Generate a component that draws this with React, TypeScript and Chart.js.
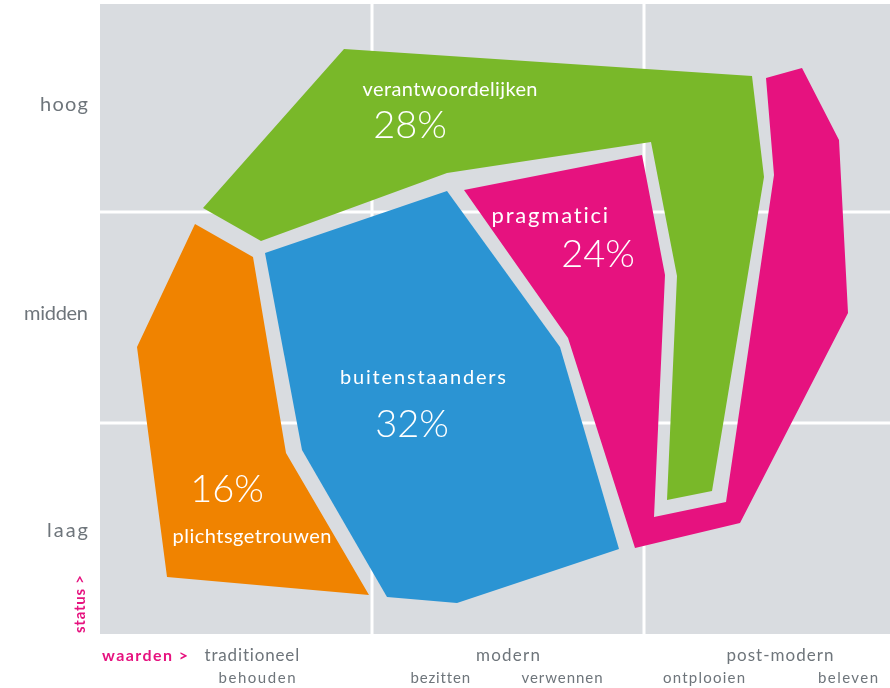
import React, { useEffect, useRef } from "react";
import { Chart, registerables } from "chart.js";

Chart.register(...registerables);

// Segment names and shares
const segmentNames = ["plichtsgetrouwen", "buitenstaanders", "pragmatici", "verantwoordelijken"];
const segmentShares = ["16%", "32%", "24%", "28%"];
const segmentColors = ["#f08300", "#2b94d3", "#e6127f", "#79b829"];

// Polygon outlines (x: waarden axis, y: status axis; 0..790 x 0..630)
const orangeX = [95, 153, 186, 269, 67, 37];
const orangeY = [410, 377, 181, 39, 57, 287];

const blueX = [165, 347, 460, 519, 357, 287, 202];
const blueY = [381, 443, 287, 85, 31, 37, 184];

const pinkX = [364, 542, 565, 554, 626, 674, 666, 702, 739, 748, 640, 535, 468];
const pinkY = [444, 479, 359, 117, 132, 459, 556, 566, 494, 321, 111, 86, 296];

const greenX = [103, 244, 652, 664, 612, 567, 577, 551, 347, 161];
const greenY = [426, 585, 558, 457, 143, 134, 358, 492, 461, 393];

// Label anchor points (name, share) per segment, in data units
const nameAnchorX = [152, 323, 450, 350];
const nameAnchorY = [97, 256, 418, 544];
const shareAnchorX = [127, 312, 498, 310];
const shareAnchorY = [144, 209, 379, 508];

// Axis
const xMax = 790;
const yMax = 630;
const gridX = [272, 544];
const gridY = [211, 422];

const statusLabels = ["laag", "midden", "hoog"];
const statusLabelY = [103, 320, 529];
const valueLabels = ["traditioneel", "modern", "post-modern"];
const valueLabelX = [152, 408, 680];
const subLabels = ["behouden", "bezitten", "verwennen", "ontplooien", "beleven"];
const subLabelX = [157, 340, 462, 604, 748];

// Styling (text widths to emulate a wide geometric typeface)
const STYLE = {
  nameSizes: [20, 20, 22, 20],
  nameWidths: [159, 166, 117, 175],
  statusSize: 20,
  statusWidths: [41, 64, 48],
  valueWidths: [95, 64, 107],
  subWidths: [77, 59, 81, 82, 60],
  waardenWidth: 86,
  statusTitleWidth: 58,
};

const GRAY = "#d9dce0";
const TEXT_GRAY = "#6e757b";
const PINK = "#e6127f";
const FONT = '"Lato", "DejaVu Sans", sans-serif';

function toPoints(xs: number[], ys: number[]) {
  const pts = xs.map((x, i) => ({ x, y: ys[i] }));
  pts.push({ x: xs[0], y: ys[0] });
  return pts;
}

const polygons = [
  toPoints(orangeX, orangeY),
  toPoints(blueX, blueY),
  toPoints(pinkX, pinkY),
  toPoints(greenX, greenY),
];

function drawFitted(ctx: any, text: string, x: number, y: number, align: string, font: string, target: number) {
  ctx.font = font;
  ctx.letterSpacing = "0px";
  const w = ctx.measureText(text).width;
  const n = text.length;
  const ls = n > 1 ? (target - w) / (n - 1) : 0;
  ctx.letterSpacing = `${ls}px`;
  const start = align === "center" ? x - target / 2 : align === "right" ? x - target : x;
  ctx.textAlign = "left";
  ctx.fillText(text, start, y);
  ctx.letterSpacing = "0px";
}

const decorPlugin = {
  id: "decor",
  beforeDatasetsDraw(chart: any) {
    const { ctx, chartArea, scales } = chart;
    const { left, top, right, bottom } = chartArea;
    ctx.save();
    ctx.fillStyle = GRAY;
    ctx.fillRect(left, top, right - left, bottom - top);
    ctx.strokeStyle = "#ffffff";
    ctx.lineWidth = 3;
    for (const v of gridX) {
      const p = scales.x.getPixelForValue(v);
      ctx.beginPath();
      ctx.moveTo(p, top);
      ctx.lineTo(p, bottom);
      ctx.stroke();
    }
    for (const v of gridY) {
      const p = scales.y.getPixelForValue(v);
      ctx.beginPath();
      ctx.moveTo(left, p);
      ctx.lineTo(right, p);
      ctx.stroke();
    }
    ctx.restore();
  },
  afterDatasetsDraw(chart: any) {
    const { ctx, chartArea, scales } = chart;
    const { left, bottom } = chartArea;
    ctx.save();
    ctx.fillStyle = "#ffffff";
    ctx.textBaseline = "middle";
    segmentNames.forEach((name, i) => {
      drawFitted(
        ctx,
        name,
        scales.x.getPixelForValue(nameAnchorX[i]),
        scales.y.getPixelForValue(nameAnchorY[i]),
        "center",
        `400 ${STYLE.nameSizes[i]}px ${FONT}`,
        STYLE.nameWidths[i]
      );
      ctx.font = `300 38px ${FONT}`;
      ctx.textAlign = "center";
      ctx.fillText(segmentShares[i], scales.x.getPixelForValue(shareAnchorX[i]), scales.y.getPixelForValue(shareAnchorY[i]));
    });

    // status labels (left)
    ctx.fillStyle = TEXT_GRAY;
    statusLabels.forEach((t, i) => {
      drawFitted(ctx, t, left - 12, scales.y.getPixelForValue(statusLabelY[i]), "right", `400 ${STYLE.statusSize}px ${FONT}`, STYLE.statusWidths[i]);
    });

    // value labels (bottom)
    valueLabels.forEach((t, i) => {
      drawFitted(ctx, t, scales.x.getPixelForValue(valueLabelX[i]), bottom + 22, "center", `400 17px ${FONT}`, STYLE.valueWidths[i]);
    });
    subLabels.forEach((t, i) => {
      drawFitted(ctx, t, scales.x.getPixelForValue(subLabelX[i]), bottom + 44, "center", `400 15px ${FONT}`, STYLE.subWidths[i]);
    });

    // pink axis titles
    ctx.fillStyle = PINK;
    drawFitted(ctx, "waarden >", left + 2, bottom + 22, "left", `700 16px ${FONT}`, STYLE.waardenWidth);

    ctx.translate(left - 20, bottom - 30);
    ctx.rotate(-Math.PI / 2);
    drawFitted(ctx, "status >", 0, 0, "center", `700 15px ${FONT}`, STYLE.statusTitleWidth);
    ctx.restore();
  },
};

export default function App() {
  const canvasRef = useRef<HTMLCanvasElement | null>(null);

  useEffect(() => {
    if (!canvasRef.current) return;
    const chart = new Chart(canvasRef.current, {
      type: "scatter",
      data: {
        datasets: polygons.map((pts, i) => ({
          label: segmentNames[i],
          data: pts,
          showLine: true,
          fill: "shape",
          backgroundColor: segmentColors[i],
          borderColor: segmentColors[i],
          borderWidth: 0,
          pointRadius: 0,
          pointHoverRadius: 0,
          tension: 0,
          clip: false,
        })),
      } as any,
      options: {
        animation: false,
        responsive: false,
        maintainAspectRatio: false,
        layout: { padding: { left: 100, top: 4, right: 0, bottom: 54 } },
        plugins: {
          legend: { display: false },
          tooltip: { enabled: false },
        },
        events: [],
        scales: {
          x: { type: "linear", min: 0, max: xMax, display: false },
          y: { type: "linear", min: 0, max: yMax, display: false },
        },
      } as any,
      plugins: [decorPlugin],
    });
    return () => chart.destroy();
  }, []);

  return (
    <div style={{ position: "fixed", left: 0, top: 0, width: 890, height: 688, background: "#fff" }}>
      <canvas ref={canvasRef} width={890} height={688} style={{ width: 890, height: 688, display: "block" }} />
    </div>
  );
}
